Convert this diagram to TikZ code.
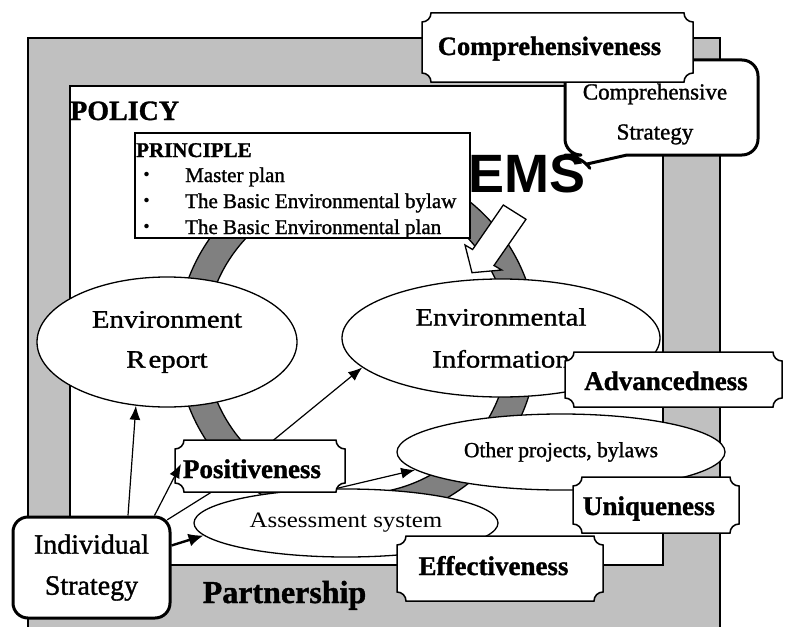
\documentclass[tikz,border=0pt]{standalone}
\usepackage{fontspec}
\setmainfont{Liberation Serif}
\newfontfamily\semib[FakeBold=1.2]{Liberation Serif}
\newfontfamily\heavy[FakeBold=1.2]{Liberation Serif Bold}
\newfontfamily\wideb[FakeStretch=1.15,FakeBold=1.2]{Liberation Serif}
\newfontfamily\wider[FakeStretch=1.13]{Liberation Serif}
\newfontfamily\cjkfont{Noto Sans CJK JP}
\newfontfamily\emsfont{Liberation Sans}
\usetikzlibrary{shapes.geometric,arrows.meta}
\definecolor{framegray}{RGB}{192,192,192}
\definecolor{ringgray}{RGB}{128,128,128}
% plaque with concave corners: x0 y0 x1 y1 (y grows downward)
\newcommand\plaque[4]{%
  \filldraw[plaqueline] (#1+9,#2) -- (#3-9,#2)
    .. controls (#3-9,#2+5) and (#3-5,#2+9) .. (#3,#2+9) -- (#3,#4-9)
    .. controls (#3-5,#4-9) and (#3-9,#4-5) .. (#3-9,#4) -- (#1+9,#4)
    .. controls (#1+9,#4-5) and (#1+5,#4-9) .. (#1,#4-9) -- (#1,#2+9)
    .. controls (#1+5,#2+9) and (#1+9,#2+5) .. cycle;}
\begin{document}
\begin{tikzpicture}[x=1pt,y=-1pt,
  frame/.style={draw=black,line width=1.5pt},
  plaqueline/.style={fill=white,draw=black,line width=1.5pt},
  plaquetext/.style={font=\heavy\fontsize{27}{30}\selectfont,inner sep=0pt,anchor=base},
  oval/.style={ellipse,draw=black,line width=1.3pt,fill=white,inner sep=0pt,align=center},
  conn/.style={line width=1.2pt,-{Latex[length=14pt,width=11pt]}},
  thickconn/.style={line width=2.4pt,-{Latex[length=15pt,width=13pt]}},
  itemtext/.style={font=\semib\fontsize{21}{24}\selectfont,anchor=base west,inner sep=0pt}]
\useasboundingbox (0,0) rectangle (789,626);
\fill[white] (0,0) rectangle (789,626);
\clip (0,0) rectangle (789,626);
% frames
\filldraw[fill=framegray,frame] (28,38) rectangle (720,645);
\filldraw[fill=white,frame] (70,86) rectangle (663,565);
% ring
\filldraw[fill=ringgray,draw=black,line width=1.3pt,even odd rule]
  (357,342) circle[radius=180] (357,342) circle[radius=152];
% policy
\node[font=\heavy\fontsize{28}{30}\selectfont,anchor=base west,inner sep=0pt] (policy) at (70,120) {POLICY};
% principle box
\filldraw[fill=white,draw=black,line width=1.3pt] (135,133) rectangle (470,238);
\node[font=\heavy\fontsize{21}{24}\selectfont,anchor=base west,inner sep=0pt] (prinhead) at (136,157) {PRINCIPLE};
\node[itemtext] (item1) at (136,182) {\makebox[49pt][l]{\cjkfont ・}Master plan};
\node[itemtext] (item2) at (136,208) {\makebox[49pt][l]{\cjkfont ・}The Basic Environmental bylaw};
\node[itemtext] (item3) at (136,234) {\makebox[49pt][l]{\cjkfont ・}The Basic Environmental plan};
% EMS
\node[font=\emsfont\bfseries\fontsize{54}{60}\selectfont,anchor=base west,inner sep=0pt] (ems) at (468,192) {EMS};
% block arrow
\filldraw[fill=white,draw=black,line width=1.3pt,line join=miter]
  (503.3,205) -- (526,219.3) -- (494,265.5) -- (501.7,270) -- (472,272.7) -- (465,245) -- (472.6,249.5) -- cycle;
% callout
\filldraw[fill=white,draw=black,line width=3pt,line join=round]
  (627,155) [rounded corners=16pt] -- (758,155) -- (758,60) -- (565,60) -- (565,155) -- (581,155)
  [sharp corners] -- (587,164) -- cycle;
% comprehensiveness plaque
\plaque{422}{13}{693}{82}
\node[plaquetext,font=\heavy\fontsize{26.5}{30}\selectfont] (compr) at (549.5,55) {Comprehensiveness};
\node[font=\semib\fontsize{23}{40}\selectfont,align=center,inner sep=0pt] (cstrat) at (655,114) {Comprehensive\\Strategy};
% ellipses
\node[oval,minimum width=260pt,minimum height=130pt,font=\wideb\fontsize{25}{40}\selectfont] (envrep) at (167,342) {Environment\\R\hspace{3pt}eport};
\node[oval,minimum width=318pt,minimum height=118pt,font=\wideb\fontsize{25}{42}\selectfont] (envinfo) at (501,338) {Environmental\\Information};
\node[oval,minimum width=328pt,minimum height=76pt,font=\semib\fontsize{21.5}{24}\selectfont] (other) at (561,452) {Other projects, bylaws};
\node[oval,minimum width=304pt,minimum height=68pt,font=\wider\fontsize{22}{24}\selectfont] (assess) at (346,523) {Assessment system};
% individual strategy
\node[draw=black,line width=3pt,rounded corners=15pt,fill=white,minimum width=157pt,minimum height=101pt,inner sep=0pt,align=center,font=\semib\fontsize{28}{41}\selectfont] (indiv) at (91.5,567.5) {Individual\\Strategy};
% hidden routing points
\coordinate (posIn) at (237,470);
\coordinate (posW) at (181,464);
\coordinate (h1) at (218,488);
\coordinate (h2) at (330,490);
% connectors passing behind the Positiveness plaque
\draw[conn] (posIn) -- (envinfo.192);
\draw[conn] ([xshift=-4.4pt,yshift=-4.4pt]indiv.north east) -- (h1) -- (h2) -- (other.187);
% plaques
\plaque{175}{440}{345}{492}
\node[plaquetext] (posit) at (252,478) {Positiveness};
\plaque{565}{352}{782}{407}
\node[plaquetext] (advan) at (666,390) {Advancedness};
\plaque{573}{477}{739}{533}
\node[plaquetext] (uniq) at (649,515) {Uniqueness};
\plaque{397}{536}{603}{601}
\node[plaquetext] (effect) at (493.5,575) {Effectiveness};
% arrows from individual strategy
\draw[conn] ([xshift=36.5pt]indiv.north) -- (envrep.244);
\draw[conn] ([xshift=63pt]indiv.north) -- (posW);
\draw[thickconn] ([yshift=22pt]indiv.east) -- (assess.185);
% partnership
\node[font=\heavy\fontsize{32}{36}\selectfont,anchor=base,inner sep=0pt] (partner) at (284.5,603) {Partnership};
\end{tikzpicture}
\end{document}
